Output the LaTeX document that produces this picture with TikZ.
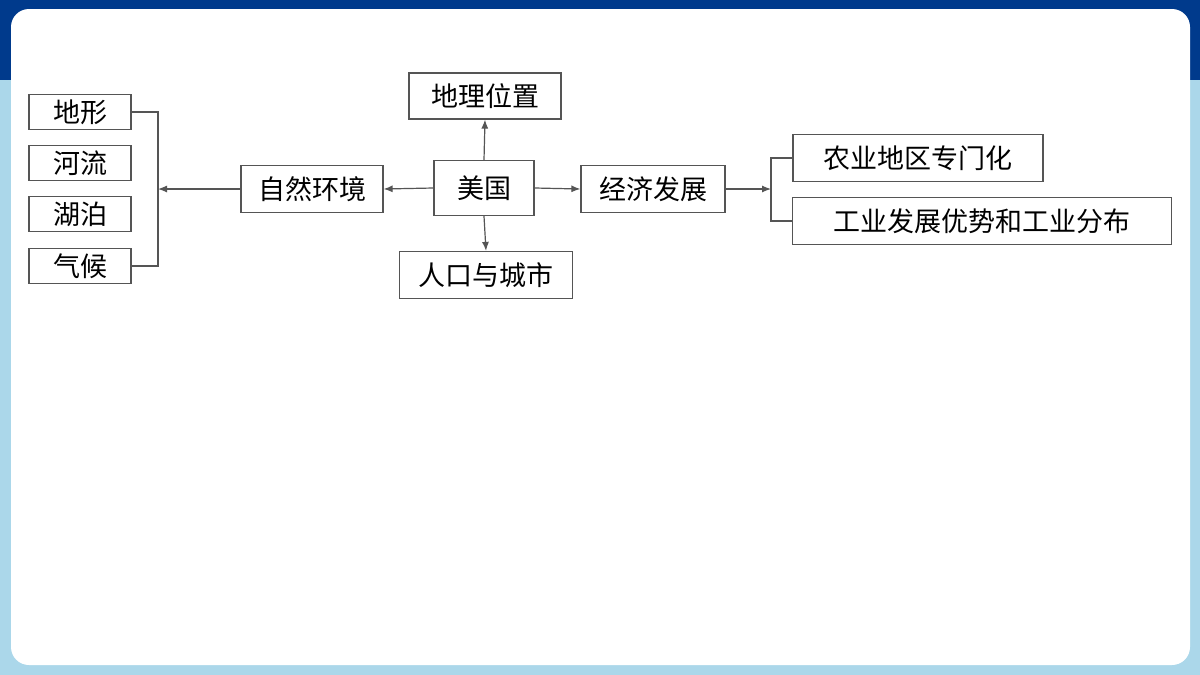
\documentclass[tikz,border=0pt]{standalone}
\usepackage{fontspec}
\setmainfont{Noto Sans CJK SC}
\usetikzlibrary{arrows.meta}
\definecolor{barblue}{HTML}{003A8C}
\definecolor{paleblue}{HTML}{ABD7EA}
\definecolor{linegray}{HTML}{555555}
\tikzset{
    box/.style={draw=linegray, line width=1.2pt, minimum height=36pt, inner sep=0pt,
        font=\fontsize{27}{27}\selectfont},
    link/.style={draw=linegray, line width=1.2pt, -{Latex[length=9pt,width=7pt]}},
    brace/.style={draw=linegray, line width=1.2pt}
}
\begin{document}
\begin{tikzpicture}[x=1pt, y=-1pt]
\useasboundingbox (0,0) rectangle (1200,675);
% background
\fill[paleblue] (0,0) rectangle (1200,675);
\fill[barblue] (0,0) rectangle (1200,80);
\fill[white, rounded corners=18pt] (11,9) rectangle (1190,665);

% centre
\node[box, minimum width=100pt, minimum height=55pt] (usa) at (484,188) {美国};
\node[box, minimum width=152pt, minimum height=46pt] (loc) at (485,96) {地理位置};
\node[box, minimum width=173pt, minimum height=47pt] (pop) at (486,275) {人口与城市};
\node[box, minimum width=142pt, minimum height=47pt] (env) at (312,189) {自然环境};
\node[box, minimum width=144pt, minimum height=47pt] (eco) at (653,189) {经济发展};

% left leaves
\node[box, minimum width=102pt, minimum height=35pt] (terrain) at (80,112) {地形};
\node[box, minimum width=102pt, minimum height=35pt] (river) at (80,163) {河流};
\node[box, minimum width=102pt, minimum height=35pt] (lake) at (80,214) {湖泊};
\node[box, minimum width=102pt, minimum height=35pt] (climate) at (80,266) {气候};

% right leaves
\node[box, minimum width=250pt, minimum height=47pt] (agri) at (918,158) {农业地区专门化};
\node[box, minimum width=379pt, minimum height=47pt] (ind) at (982,221) {工业发展优势和工业分布};

% brackets
\coordinate (lb) at (158,189);
\coordinate (rb) at (771,189);
\draw[brace] (terrain.east) -- (terrain.east -| lb) -- (climate.east -| lb) -- (climate.east);
\draw[brace] (agri.west) -- (agri.west -| rb) -- (ind.west -| rb) -- (ind.west);

% arrows
\draw[link] (usa.north) -- (loc.south);
\draw[link] (usa.south) -- (pop.north);
\draw[link] (usa.west) -- (env.east);
\draw[link] (usa.east) -- (eco.west);
\draw[link] (env.west) -- (lb);
\draw[link] (eco.east) -- (rb);
\end{tikzpicture}
\end{document}
